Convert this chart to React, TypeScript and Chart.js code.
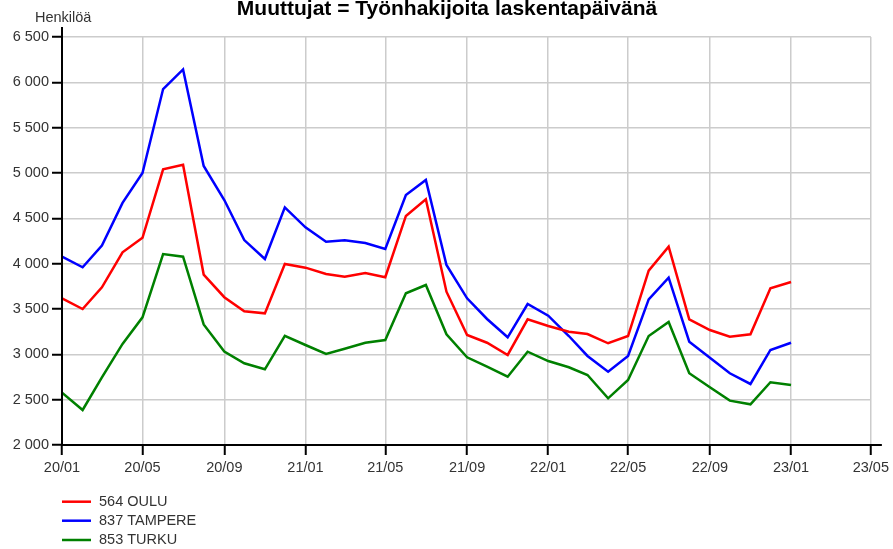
import React, { useEffect, useRef } from "react";
import { Chart, registerables } from "chart.js";

Chart.register(...registerables);

const monthLabels = [
  "20/01", "20/02", "20/03", "20/04", "20/05", "20/06", "20/07", "20/08", "20/09", "20/10", "20/11", "20/12",
  "21/01", "21/02", "21/03", "21/04", "21/05", "21/06", "21/07", "21/08", "21/09", "21/10", "21/11", "21/12",
  "22/01", "22/02", "22/03", "22/04", "22/05", "22/06", "22/07", "22/08", "22/09", "22/10", "22/11", "22/12",
  "23/01",
];

const xTickLabels = ["20/01", "20/05", "20/09", "21/01", "21/05", "21/09", "22/01", "22/05", "22/09", "23/01", "23/05"];

const oulu = [
  3618, 3500, 3739, 4125, 4285, 5041, 5092, 3880, 3630, 3475, 3452, 3996,
  3956, 3886, 3856, 3897, 3850, 4526, 4710, 3691, 3213, 3128, 2993, 3386,
  3312, 3250, 3224, 3122, 3202, 3923, 4187, 3386, 3268, 3195, 3221, 3728,
  3798,
];

const tampere = [
  4077, 3960, 4200, 4670, 5000, 5926, 6143, 5077, 4702, 4260, 4051, 4621,
  4401, 4242, 4258, 4228, 4162, 4757, 4923, 3985, 3618, 3390, 3188, 3555,
  3426, 3202, 2982, 2808, 2982, 3607, 3846, 3139, 2963, 2791, 2673, 3048,
  3128,
];

const turku = [
  2577, 2386, 2745, 3115, 3408, 4106, 4077, 3330, 3030, 2901, 2835, 3205,
  3103, 3004, 3062, 3128, 3158, 3673, 3765, 3221, 2967, 2864, 2753, 3029,
  2926, 2857, 2772, 2515, 2717, 3202, 3357, 2791, 2636, 2489, 2449, 2692,
  2662,
];

const seriesNames = ["564 OULU", "837 TAMPERE", "853 TURKU"];
const seriesColors = ["#ff0000", "#0000ff", "#008000"];
const titleText = "Muuttujat = Työnhakijoita laskentapäivänä";
const yAxisTitle = "Henkilöä";

const FONT = '"Liberation Sans", Arial, sans-serif';

// "yy/mm" -> days since 2020-01-01 (time axis position)
function dayOf(label: string): number {
  const [yy, mm] = label.split("/").map(Number);
  return Math.round((Date.UTC(2000 + yy, mm - 1, 1) - Date.UTC(2020, 0, 1)) / 86400000);
}

function fmt(v: number): string {
  return String(v).replace(/\B(?=(\d{3})+(?!\d))/g, " ");
}

const xTickDays = xTickLabels.map(dayOf);

const decorPlugin = {
  id: "decor",
  afterDraw(chart: any) {
    const ctx = chart.ctx;
    const a = chart.chartArea;
    ctx.save();
    ctx.strokeStyle = "#000";
    ctx.lineWidth = 2;
    ctx.beginPath();
    ctx.moveTo(a.left, a.top - 10);
    ctx.lineTo(a.left, a.bottom);
    ctx.moveTo(a.left - 1, a.bottom);
    ctx.lineTo(a.right + 11, a.bottom);
    ctx.stroke();
    ctx.fillStyle = "#000";
    ctx.font = `bold 21px ${FONT}`;
    ctx.textAlign = "center";
    ctx.textBaseline = "alphabetic";
    ctx.fillText(titleText, 447, 15);
    ctx.fillStyle = "#333";
    ctx.font = `14.5px ${FONT}`;
    ctx.textAlign = "left";
    ctx.fillText(yAxisTitle, a.left - 27, 21.5);
    const ys = [501.7, 520.7, 540];
    chart.data.datasets.forEach((ds: any, i: number) => {
      const y = ys[i];
      ctx.strokeStyle = ds.borderColor;
      ctx.lineWidth = 2.5;
      ctx.beginPath();
      ctx.moveTo(a.left, y);
      ctx.lineTo(a.left + 29, y);
      ctx.stroke();
      ctx.fillStyle = "#333";
      ctx.font = `14.5px ${FONT}`;
      ctx.textAlign = "left";
      ctx.textBaseline = "middle";
      ctx.fillText(ds.label, a.left + 37, y);
    });
    ctx.restore();
  },
};

export default function App() {
  const ref = useRef<HTMLCanvasElement | null>(null);
  useEffect(() => {
    if (!ref.current) return;
    const series = [oulu, tampere, turku];
    const chart = new Chart(ref.current, {
      type: "line",
      data: {
        datasets: series.map((s, i) => ({
          label: seriesNames[i],
          data: s.map((v, j) => ({ x: dayOf(monthLabels[j]), y: v })),
          borderColor: seriesColors[i],
          backgroundColor: seriesColors[i],
          borderWidth: 2.5,
          pointRadius: 0,
          tension: 0,
          fill: false,
        })),
      },
      options: {
        responsive: false,
        animation: false,
        layout: { padding: { left: 0, top: 37, right: 20, bottom: 0 } },
        plugins: {
          legend: { display: false },
          title: { display: false },
          tooltip: { enabled: false },
        },
        scales: {
          x: {
            type: "linear",
            min: xTickDays[0],
            max: xTickDays[xTickDays.length - 1],
            afterFit(scale: any) {
              scale.height = 104;
            },
            afterBuildTicks(scale: any) {
              scale.ticks = xTickDays.map((d) => ({ value: d }));
            },
            ticks: {
              autoSkip: false,
              maxRotation: 0,
              padding: 4,
              color: "#333",
              font: { family: FONT, size: 14.5 },
              callback: (v: any) => {
                const k = xTickDays.indexOf(Math.round(Number(v)));
                return k >= 0 ? xTickLabels[k] : "";
              },
            },
            grid: {
              color: "#cccccc",
              lineWidth: 1.5,
              drawTicks: true,
              tickLength: 10,
              tickColor: "#000",
              tickWidth: 2,
            },
            border: { display: false },
          },
          y: {
            type: "linear",
            min: 2000,
            max: 6500,
            afterFit(scale: any) {
              scale.width = 62;
            },
            ticks: {
              stepSize: 500,
              padding: 3,
              color: "#333",
              font: { family: FONT, size: 14.5 },
              callback: (v: any) => fmt(Number(v)),
            },
            grid: {
              color: "#cccccc",
              lineWidth: 1.5,
              drawTicks: true,
              tickLength: 10,
              tickColor: "#000",
              tickWidth: 2,
            },
            border: { display: false },
          },
        },
      },
      plugins: [decorPlugin],
    });
    return () => chart.destroy();
  }, []);
  return (
    <div style={{ position: "absolute", left: 0, top: 0, width: 893, height: 549 }}>
      <canvas ref={ref} width={893} height={549} />
    </div>
  );
}
